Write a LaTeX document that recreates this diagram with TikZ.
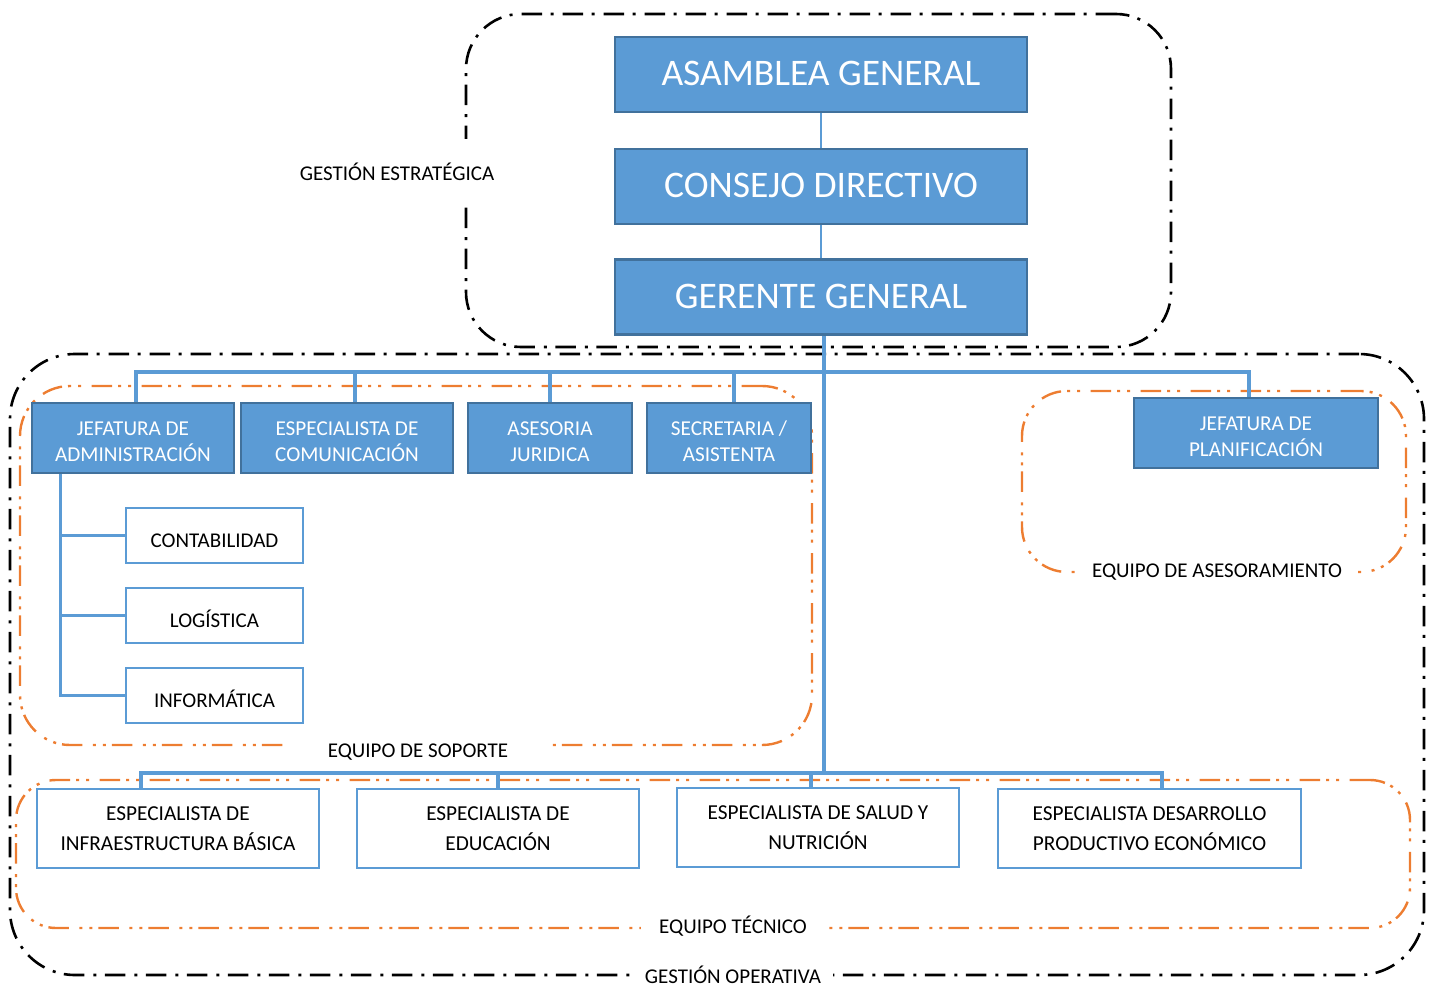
\documentclass[tikz,border=0pt]{standalone}
\usepackage{fontspec}
\setmainfont{Carlito}
\definecolor{bfill}{HTML}{5B9BD5}
\definecolor{bdraw}{HTML}{41719C}
\definecolor{borange}{HTML}{ED7D31}
\newcommand\dropped[2]{\raisebox{-#1}[\height][\depth]{\begin{tabular}{@{}c@{}}#2\end{tabular}}}
\tikzset{
  topbox/.style={draw=bdraw, fill=bfill, line width=2.5pt, text=white, font=\fontsize{37.5}{40}\selectfont, minimum width=412pt, minimum height=75pt, inner sep=0pt},
  midbox/.style={draw=bdraw, fill=bfill, line width=2.5pt, text=white, font=\fontsize{21.2}{26}\selectfont, align=center, minimum height=70pt, inner sep=0pt},
  subbox/.style={draw=bfill, fill=white, line width=2.5pt, font=\fontsize{21}{25}\selectfont, minimum width=177pt, minimum height=55pt, inner sep=0pt},
  lowbox/.style={draw=bfill, fill=white, line width=2.5pt, font=\fontsize{21.3}{30}\selectfont, align=center, minimum height=79pt, inner sep=0pt},
  conn/.style={draw=bfill, line width=3.2pt},
  thinconn/.style={draw=bfill, line width=2.5pt},
  blackgrp/.style={draw=black, line width=2.6pt, dash pattern=on 20.5pt off 9pt on 3pt off 8.5pt, inner sep=0pt},
  orangegrp/.style={draw=borange, line width=2.4pt, dash pattern=on 20.5pt off 10.5pt on 3pt off 7pt on 3pt off 6pt, inner sep=0pt},
  lbl/.style={fill=white, font=\fontsize{21}{25}\selectfont, inner ysep=3pt}
}
\begin{document}
\begin{tikzpicture}[x=1pt,y=-1pt]
\useasboundingbox (0,0) rectangle (1430,987);
% group containers
\node[blackgrp, rounded corners=55pt, minimum width=705pt, minimum height=333pt] (gest) at (818.5,180.5) {};
\node[blackgrp, rounded corners=65pt, minimum width=1414pt, minimum height=621pt] (oper) at (717,664.5) {};
\node[orangegrp, rounded corners=50pt, minimum width=792pt, minimum height=359pt] (sop) at (416,565.5) {};
\node[orangegrp, rounded corners=45pt, minimum width=384pt, minimum height=181pt] (ase) at (1214,481.5) {};
\node[orangegrp, rounded corners=40pt, minimum width=1394pt, minimum height=148pt] (tec) at (713,854) {};
% labels
\node[lbl, inner xsep=3pt, inner ysep=24pt] (lge) at (397,171.5) {GESTIÓN ESTRATÉGICA};
\node[lbl, inner xsep=12pt] (lgo) at (733,975) {GESTIÓN OPERATIVA};
\node[lbl, inner xsep=44pt] (lsop) at (418,752) {EQUIPO DE SOPORTE};
\node[lbl, inner xsep=16pt] (lase) at (1217,572) {EQUIPO DE ASESORAMIENTO};
\node[lbl, inner xsep=18pt] (ltec) at (733,926) {EQUIPO TÉCNICO};
% bus coordinates
\coordinate (tb) at (0,372);
\coordinate (bb) at (0,773);
% top boxes
\node[topbox] (ag) at (821,74.5) {\dropped{3pt}{ASAMBLEA GENERAL}};
\node[topbox] (cd) at (821,186.5) {\dropped{3pt}{CONSEJO DIRECTIVO}};
\node[topbox] (gg) at (821,297) {\dropped{3pt}{GERENTE GENERAL}};
% middle boxes
\node[midbox, minimum width=202pt] (ja) at (133,438) {\dropped{5pt}{JEFATURA DE\\ADMINISTRACIÓN}};
\node[midbox, minimum width=212pt] (ec) at (347,438) {\dropped{5pt}{ESPECIALISTA DE\\COMUNICACIÓN}};
\node[midbox, minimum width=164pt] (aj) at (550,438) {\dropped{5pt}{ASESORIA\\JURIDICA}};
\node[midbox, minimum width=164pt] (sa) at (729,438) {\dropped{5pt}{SECRETARIA /\\ASISTENTA}};
\node[midbox, minimum width=244pt] (jp) at (1256,433) {\dropped{5pt}{JEFATURA DE\\PLANIFICACIÓN}};
% sub boxes
\node[subbox] (cont) at (214.5,535.5) {\dropped{7pt}{CONTABILIDAD}};
\node[subbox] (log) at (214.5,615.5) {\dropped{7pt}{LOGÍSTICA}};
\node[subbox] (inf) at (214.5,695.5) {\dropped{7pt}{INFORMÁTICA}};
% lower boxes
\node[lowbox, minimum width=282pt] (e1) at (178,828.5) {ESPECIALISTA DE\\INFRAESTRUCTURA BÁSICA};
\node[lowbox, minimum width=282pt] (e2) at (498,828.5) {ESPECIALISTA DE\\EDUCACIÓN};
\node[lowbox, minimum width=282pt] (e3) at (818,827.5) {ESPECIALISTA DE SALUD Y\\NUTRICIÓN};
\node[lowbox, minimum width=303pt] (e4) at (1149.5,828.5) {ESPECIALISTA DESARROLLO\\PRODUCTIVO ECONÓMICO};
% connectors
\draw[thinconn] (ag.south) -- (cd.north);
\draw[thinconn] (cd.south) -- (gg.north);
\draw[conn] ([xshift=3pt]gg.south) -- ([xshift=3pt]gg.south |- bb);
\draw[conn] ([xshift=3pt]ja.north) -- ([xshift=3pt]ja.north |- tb) -- ([xshift=-7pt]jp.north |- tb) -- ([xshift=-7pt]jp.north);
\draw[conn] ([xshift=8pt]ec.north) -- ([xshift=8pt]ec.north |- tb);
\draw[conn] (aj.north) -- (aj.north |- tb);
\draw[conn] ([xshift=5pt]sa.north) -- ([xshift=5pt]sa.north |- tb);
\draw[conn] ([xshift=30pt]ja.south west) -- ([xshift=30pt]ja.south west |- inf.west) -- (inf.west);
\draw[conn] ([xshift=30pt]ja.south west |- cont.west) -- (cont.west);
\draw[conn] ([xshift=30pt]ja.south west |- log.west) -- (log.west);
\draw[conn] ([xshift=-37pt]e1.north) -- ([xshift=-37pt]e1.north |- bb) -- ([xshift=12.5pt]e4.north |- bb) -- ([xshift=12.5pt]e4.north);
\draw[conn] (e2.north) -- (e2.north |- bb);
\draw[conn] ([xshift=-7pt]e3.north) -- ([xshift=-7pt]e3.north |- bb);
\end{tikzpicture}
\end{document}
